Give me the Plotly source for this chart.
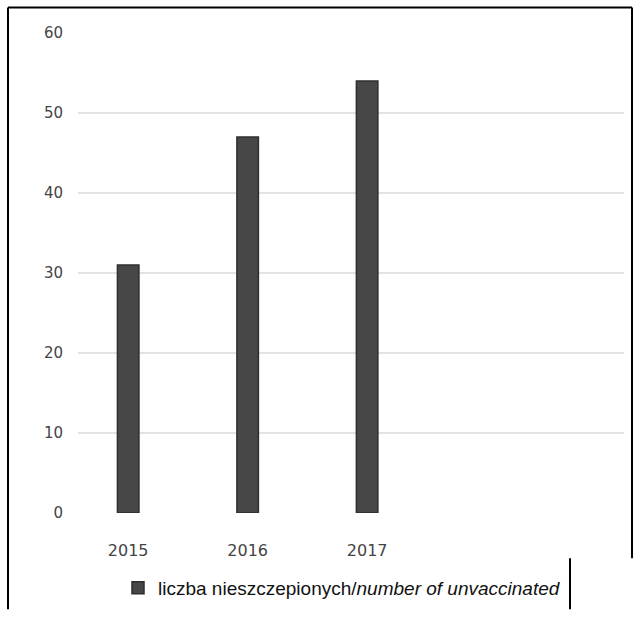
import plotly.graph_objects as go

# Unvaccinated counts per year
years = ["2015", "2016", "2017"]
unvaccinated = [31, 47, 54]
y_ticks = [0, 10, 20, 30, 40, 50, 60]
series_name = "liczba nieszczepionych/<i>number of unvaccinated</i>"

W, H = 634, 617
L, R, T, B = 78, 10, 33, 95
pw, ph = W - L - R, H - T - B


def px_x(x):
    return (x - L) / pw


def px_y(y):
    return (H - B - y) / ph


positions = list(range(len(years)))

fig = go.Figure()
fig.add_trace(go.Bar(
    x=positions,
    y=unvaccinated,
    name=series_name,
    width=0.18,
    marker=dict(color="#474747", line=dict(color="#2e2e2e", width=1.5)),
    showlegend=True,
))

# frame around the figure
edge = dict(xref="paper", yref="paper", layer="above",
            line=dict(color="#000000", width=2))
fig.add_shape(type="line", **edge, x0=px_x(8), x1=px_x(632), y0=px_y(7), y1=px_y(7))
fig.add_shape(type="line", **edge, x0=px_x(8), x1=px_x(8), y0=px_y(7), y1=px_y(620))
fig.add_shape(type="line", **edge, x0=px_x(632), x1=px_x(632), y0=px_y(7), y1=px_y(568))
fig.add_shape(type="line", **edge, x0=px_x(570), x1=px_x(570), y0=px_y(568), y1=px_y(620))

fig.update_layout(
    width=W, height=H,
    margin=dict(l=L, r=R, t=T, b=B),
    paper_bgcolor="white",
    plot_bgcolor="white",
    showlegend=True,
    legend=dict(
        orientation="h",
        x=px_x(118), y=px_y(579),
        xanchor="left", yanchor="top",
        font=dict(family="Liberation Sans", size=19, color="#111111"),
        bgcolor="rgba(0,0,0,0)",
    ),
    xaxis=dict(
        range=[-0.42, 4.15],
        tickvals=positions,
        ticktext=years,
        showgrid=False,
        zeroline=False,
        showline=False,
        ticks="",
        ticklabelstandoff=26,
        tickfont=dict(family="DejaVu Sans", size=16, color="#444444"),
    ),
    yaxis=dict(
        range=[0, 60],
        tickvals=y_ticks,
        showgrid=True,
        gridcolor="#e3e3e3",
        gridwidth=1.5,
        zeroline=False,
        showline=False,
        ticks="",
        ticklabelstandoff=14,
        tickfont=dict(family="DejaVu Sans", size=15, color="#444444"),
    ),
)

fig.write_html("out.html")
